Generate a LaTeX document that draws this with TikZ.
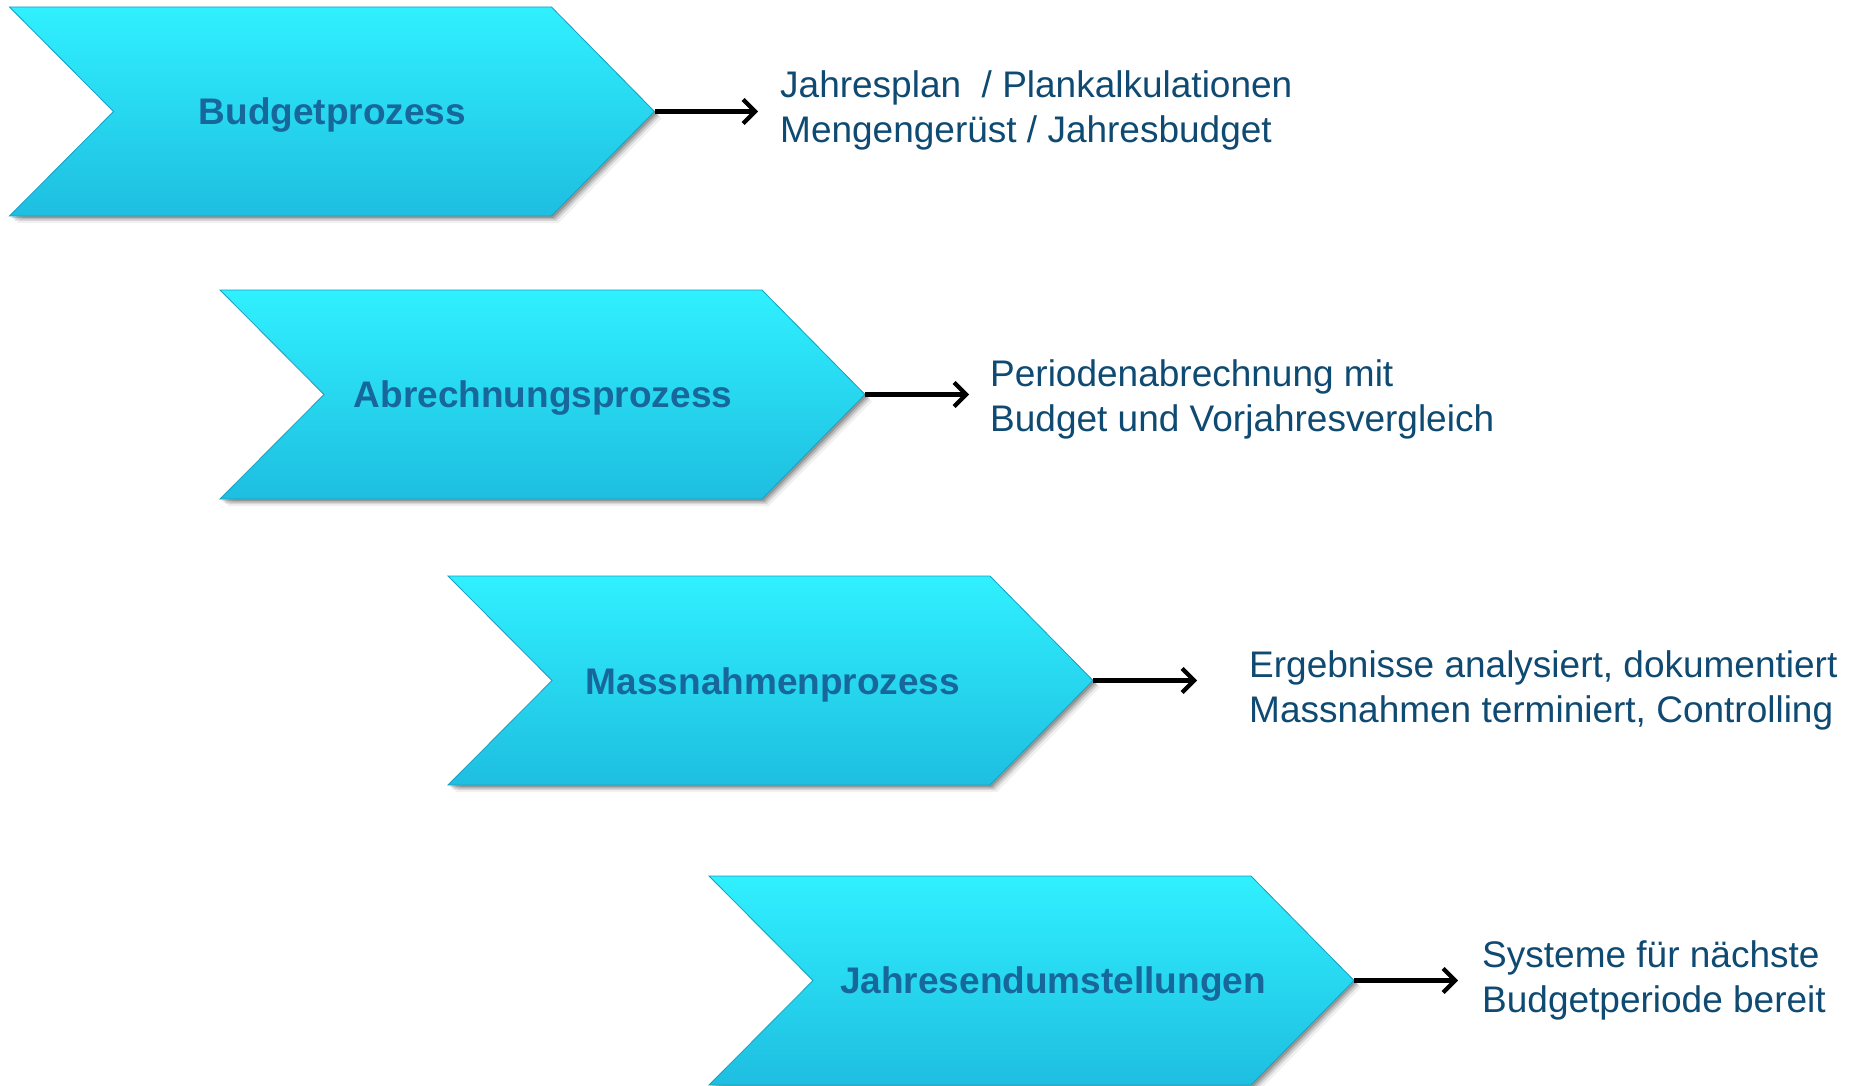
\documentclass[tikz,border=0pt]{standalone}
\usepackage{fontspec}
\setmainfont{Liberation Sans}
\usetikzlibrary{arrows.meta}
\definecolor{chevtop}{HTML}{30F0FF}
\definecolor{chevbot}{HTML}{1EBEE0}
\definecolor{chevedge}{HTML}{1AA0C0}
\definecolor{lblblue}{HTML}{17679A}
\definecolor{txtblue}{HTML}{0E4A72}
\tikzset{
  chevlabel/.style={font=\fontsize{37}{44}\selectfont\bfseries, text=lblblue, inner sep=0pt},
  desc/.style={font=\fontsize{37}{45}\selectfont, text=txtblue, align=left, anchor=west, inner sep=0pt},
  arr/.style={line width=4.5pt, -{Straight Barb[length=12pt,width=24pt,line width=4.2pt]}},
}
% \mychev{name}{left x}{top y}{label}{label x shift}
\newcommand{\mychev}[5]{%
  \pgfmathsetmacro{\L}{#2}\pgfmathsetmacro{\T}{#3}%
  \pgfmathsetmacro{\R}{\L+542}\pgfmathsetmacro{\B}{\T+209}%
  \pgfmathsetmacro{\M}{\T+104.5}\pgfmathsetmacro{\N}{\L+104}\pgfmathsetmacro{\P}{\R+103}%
  \foreach \s/\o in {7/0.06,5/0.10,3.5/0.14,2/0.18}{
    \fill[black,opacity=\o] (\L+\s,\T+\s) -- (\R+\s,\T+\s) -- (\P+\s,\M+\s) -- (\R+\s,\B+\s) -- (\L+\s,\B+\s) -- (\N+\s,\M+\s) -- cycle;
  }
  \shade[top color=chevtop, bottom color=chevbot, draw=chevedge, line width=0.8pt]
    (\L,\T) -- (\R,\T) -- (\P,\M) -- (\R,\B) -- (\L,\B) -- (\N,\M) -- cycle;
  \node[chevlabel] (#1) at ({(\N+\R)/2+#5},\M+4) {#4};
  \coordinate (#1tip) at (\P,\M);
}
\begin{document}
\begin{tikzpicture}[x=1pt,y=-1pt]
\useasboundingbox[fill=white] (0,0) rectangle (1858,1086);
\begin{scope}
\clip (0,0) rectangle (1858,1086);
\mychev{c1}{9.5}{7}{Budgetprozess}{0}
\mychev{c2}{220}{290}{Abrechnungsprozess}{0}
\mychev{c3}{448}{576}{Massnahmenprozess}{2}
\mychev{c4}{709}{876}{Jahresendumstellungen}{21}
\end{scope}

\node[desc] (d1) at (780,110.5) {Jahresplan \ / Plankalkulationen\\Mengengerüst / Jahresbudget};
\node[desc] (d2) at (990,399.5) {Periodenabrechnung mit\\Budget und Vorjahresvergleich};
\node[desc] (d3) at (1249,690.5) {Ergebnisse analysiert, dokumentiert\\Massnahmen terminiert, Controlling};
\node[desc] (d4) at (1482,980.5) {Systeme für nächste\\Budgetperiode bereit};

\coordinate (e1) at (758,111);
\coordinate (e2) at (969,395);
\coordinate (e3) at (1197,680);
\coordinate (e4) at (1458,980);
\draw[arr] (c1tip) -- (e1 |- c1tip);
\draw[arr] (c2tip) -- (e2 |- c2tip);
\draw[arr] (c3tip) -- (e3 |- c3tip);
\draw[arr] (c4tip) -- (e4 |- c4tip);
\end{tikzpicture}
\end{document}
